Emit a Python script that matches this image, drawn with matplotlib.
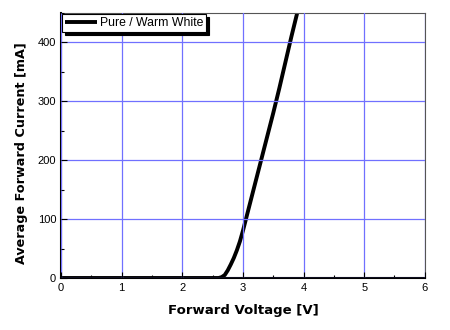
import matplotlib.pyplot as plt
from matplotlib.ticker import MultipleLocator

# forward voltage (V) vs average forward current (mA)
voltage = [0.0, 2.5, 2.6, 2.65, 2.7, 2.75, 2.8, 2.85, 2.9, 2.95, 3.0, 3.05, 3.2, 3.3, 3.4, 3.5, 3.6, 3.7, 3.8, 3.9, 3.95]
current = [0, 0, 0, 1.5, 5, 13, 23, 34, 47, 62, 80, 100, 160, 200, 240, 280, 322, 366, 410, 452, 475]

series_label = "Pure / Warm White"
x_ticks = [0, 1, 2, 3, 4, 5, 6]
y_ticks = [0, 100, 200, 300, 400]

fig = plt.figure(figsize=(4.5, 3.3), dpi=100)
ax = fig.add_axes([0.1356, 0.1576, 0.8084, 0.803])

ax.plot(voltage, current, color='black', lw=2.8, label=series_label, solid_capstyle='butt')

ax.set_xlim(0, 6)
ax.set_ylim(0, 450)
ax.set_xticks(x_ticks)
ax.set_yticks(y_ticks)
ax.xaxis.set_minor_locator(MultipleLocator(0.5))
ax.yaxis.set_minor_locator(MultipleLocator(50))
ax.tick_params(which='both', direction='in', labelsize=8, top=False, right=False, width=0.8)
ax.tick_params(which='major', length=4)
ax.tick_params(which='minor', length=2.5)
for lab in ax.get_xticklabels() + ax.get_yticklabels():
    lab.set_family('Liberation Sans')

ax.grid(True, which='major', color='#7070ff', lw=0.9)
ax.set_axisbelow(False)
for s in ['top', 'right']:
    ax.spines[s].set_color('#555555')
for s in ['left', 'bottom']:
    ax.spines[s].set_linewidth(1.5)

ax.set_xlabel('Forward Voltage [V]', fontsize=9.5, fontweight='bold', labelpad=8)
ax.set_ylabel('Average Forward Current [mA]', fontsize=9.2, fontweight='bold')
ax.yaxis.set_label_coords(-0.09, 0.47)

leg = ax.legend(loc='upper left', borderaxespad=0.1, fancybox=False, framealpha=1,
                edgecolor='black', shadow={'color': 'black', 'alpha': 1},
                prop={'family': 'Liberation Sans', 'size': 8.8},
                handlelength=2.6, handletextpad=0.2, borderpad=0.25)
leg.get_frame().set_linewidth(0.8)

fig.savefig('out.png', dpi=100)
